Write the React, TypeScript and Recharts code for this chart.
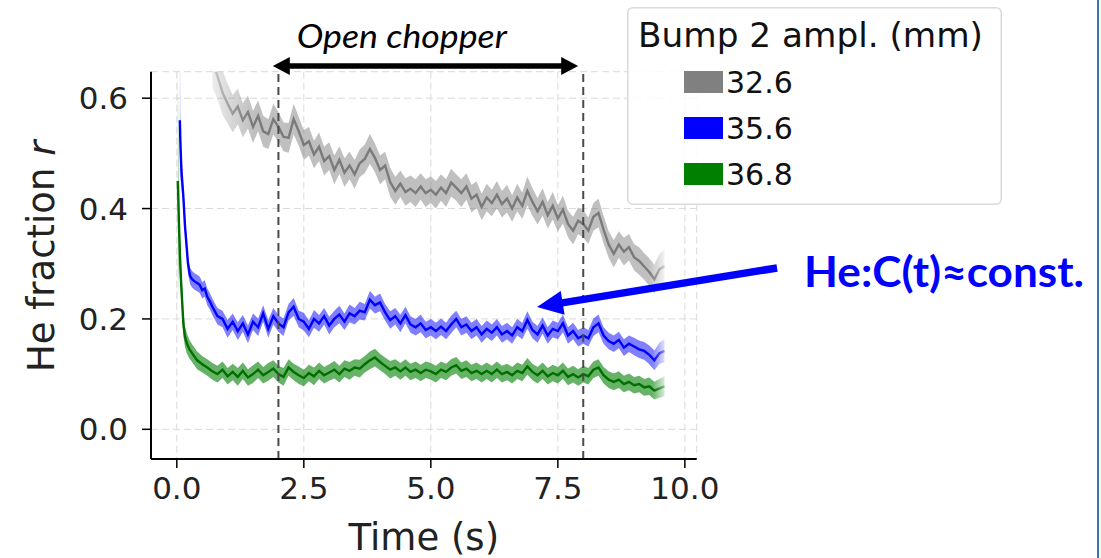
import React from 'react';
import { ComposedChart, Line, Area, XAxis, YAxis, CartesianGrid, ReferenceLine, Legend } from 'recharts';

// ---------- data ----------
const commonTime = [
  1.0, 1.1, 1.2, 1.3, 1.4, 1.5, 1.6, 1.7, 1.8, 1.9,
  2.0, 2.1, 2.2, 2.3, 2.4, 2.5, 2.6, 2.7, 2.8, 2.9,
  3.0, 3.1, 3.2, 3.3, 3.4, 3.5, 3.6, 3.7, 3.8, 3.9,
  4.0, 4.1, 4.2, 4.3, 4.4, 4.5, 4.6, 4.7, 4.8, 4.9,
  5.0, 5.1, 5.2, 5.3, 5.4, 5.5, 5.6, 5.7, 5.8, 5.9,
  6.0, 6.1, 6.2, 6.3, 6.4, 6.5, 6.6, 6.7, 6.8, 6.9,
  7.0, 7.1, 7.2, 7.3, 7.4, 7.5, 7.6, 7.7, 7.8, 7.9,
  8.0, 8.1, 8.2, 8.3, 8.4, 8.5, 8.6, 8.7, 8.8, 8.9,
  9.0, 9.1, 9.2, 9.3, 9.4, 9.5, 9.6,
];

// 32.6 mm (gray)
const grayEarlyTime = [0.7, 0.8, 0.9];
const grayMean = [
  0.665, 0.640, 0.610,
  0.590, 0.572, 0.585, 0.560, 0.575, 0.548, 0.568, 0.540, 0.535, 0.562,
  0.548, 0.530, 0.528, 0.562, 0.540, 0.515, 0.522, 0.498, 0.512, 0.486,
  0.495, 0.470, 0.488, 0.465, 0.478, 0.462, 0.482, 0.490, 0.508, 0.492,
  0.470, 0.478, 0.448, 0.432, 0.445, 0.430, 0.436, 0.428, 0.440, 0.428,
  0.434, 0.425, 0.438, 0.428, 0.447, 0.438, 0.428, 0.440, 0.418, 0.425,
  0.403, 0.420, 0.410, 0.425, 0.408, 0.418, 0.400, 0.420, 0.405, 0.432,
  0.412, 0.395, 0.412, 0.388, 0.405, 0.382, 0.398, 0.372, 0.360, 0.378,
  0.372, 0.360, 0.385, 0.392, 0.362, 0.335, 0.318, 0.335, 0.322, 0.330,
  0.312, 0.305, 0.295, 0.285, 0.272, 0.290, 0.296,
];
const grayErr = [
  0.045, 0.042, 0.040,
  0.036, 0.034, 0.032, 0.031, 0.030, 0.029, 0.028, 0.028, 0.027, 0.028,
  0.027, 0.026, 0.027, 0.028, 0.026, 0.027, 0.026, 0.025, 0.026, 0.026,
  0.025, 0.026, 0.025, 0.026, 0.025, 0.026, 0.025, 0.026, 0.027, 0.026,
  0.026, 0.025, 0.026, 0.025, 0.024, 0.025, 0.024, 0.025, 0.024, 0.025,
  0.024, 0.025, 0.024, 0.025, 0.025, 0.024, 0.025, 0.024, 0.025, 0.024,
  0.024, 0.025, 0.024, 0.025, 0.024, 0.025, 0.024, 0.025, 0.024, 0.026,
  0.025, 0.024, 0.025, 0.024, 0.025, 0.024, 0.025, 0.024, 0.025, 0.024,
  0.025, 0.024, 0.025, 0.026, 0.025, 0.024, 0.025, 0.024, 0.025, 0.024,
  0.024, 0.025, 0.024, 0.025, 0.026, 0.028, 0.030,
];

// 35.6 mm (blue)
const blueEarlyTime = [0.06, 0.07, 0.09, 0.11, 0.13, 0.16, 0.19, 0.22, 0.26, 0.30, 0.35, 0.40, 0.45, 0.50, 0.55, 0.60, 0.65, 0.70, 0.80, 0.90];
const blueMean = [
  0.560, 0.520, 0.470, 0.445, 0.420, 0.370, 0.335, 0.300, 0.278, 0.272,
  0.268, 0.265, 0.262, 0.252, 0.255, 0.240, 0.232, 0.222, 0.205, 0.200,
  0.182, 0.195, 0.178, 0.192, 0.172, 0.195, 0.185, 0.210, 0.182, 0.205,
  0.192, 0.185, 0.212, 0.222, 0.200, 0.195, 0.182, 0.200, 0.192, 0.205,
  0.188, 0.200, 0.208, 0.195, 0.210, 0.205, 0.215, 0.212, 0.235, 0.225,
  0.230, 0.212, 0.198, 0.205, 0.192, 0.207, 0.190, 0.185, 0.192, 0.180,
  0.185, 0.178, 0.186, 0.178, 0.190, 0.200, 0.185, 0.190, 0.178, 0.185,
  0.172, 0.182, 0.175, 0.185, 0.172, 0.178, 0.170, 0.185, 0.178, 0.198,
  0.180, 0.172, 0.188, 0.170, 0.182, 0.178, 0.192, 0.170, 0.178, 0.165,
  0.170, 0.165, 0.185, 0.192, 0.170, 0.160, 0.155, 0.162, 0.148, 0.155,
  0.150, 0.145, 0.142, 0.135, 0.125, 0.138, 0.142,
];
const blueErr = [
  0.150, 0.060, 0.032, 0.024, 0.020, 0.018, 0.017, 0.016, 0.015, 0.015,
  0.015, 0.015, 0.015, 0.015, 0.015, 0.015, 0.015, 0.015, 0.015, 0.015,
  0.016, 0.015, 0.016, 0.015, 0.016, 0.015, 0.016, 0.015, 0.016, 0.015,
  0.015, 0.016, 0.015, 0.016, 0.015, 0.016, 0.015, 0.016, 0.015, 0.015,
  0.016, 0.015, 0.016, 0.015, 0.016, 0.015, 0.016, 0.015, 0.016, 0.015,
  0.016, 0.015, 0.016, 0.015, 0.016, 0.015, 0.015, 0.015, 0.016, 0.015,
  0.015, 0.015, 0.015, 0.015, 0.016, 0.015, 0.015, 0.015, 0.015, 0.015,
  0.015, 0.015, 0.015, 0.015, 0.015, 0.015, 0.015, 0.015, 0.015, 0.016,
  0.015, 0.015, 0.015, 0.015, 0.015, 0.015, 0.016, 0.015, 0.015, 0.015,
  0.015, 0.015, 0.016, 0.016, 0.015, 0.015, 0.015, 0.015, 0.015, 0.015,
  0.016, 0.016, 0.016, 0.017, 0.018, 0.019, 0.021,
];

// 36.8 mm (green)
const greenEarlyTime = [0.02, 0.04, 0.06, 0.08, 0.10, 0.13, 0.16, 0.20, 0.25, 0.30, 0.40, 0.50, 0.60, 0.70, 0.80, 0.90];
const greenMean = [
  0.450, 0.380, 0.320, 0.275, 0.240, 0.190, 0.168, 0.155, 0.145, 0.138,
  0.125, 0.118, 0.112, 0.105, 0.100, 0.108,
  0.096, 0.104, 0.095, 0.106, 0.094, 0.100, 0.108, 0.098, 0.104, 0.110,
  0.100, 0.095, 0.112, 0.104, 0.098, 0.093, 0.102, 0.096, 0.106, 0.098,
  0.103, 0.108, 0.100, 0.110, 0.106, 0.112, 0.110, 0.118, 0.125, 0.130,
  0.122, 0.115, 0.108, 0.112, 0.105, 0.112, 0.104, 0.108, 0.102, 0.108,
  0.105, 0.100, 0.108, 0.104, 0.112, 0.116, 0.106, 0.110, 0.102, 0.106,
  0.100, 0.106, 0.100, 0.108, 0.100, 0.104, 0.098, 0.106, 0.102, 0.114,
  0.104, 0.098, 0.106, 0.096, 0.102, 0.098, 0.106, 0.095, 0.100, 0.094,
  0.100, 0.096, 0.108, 0.112, 0.098, 0.090, 0.086, 0.090, 0.082, 0.086,
  0.080, 0.082, 0.076, 0.078, 0.070, 0.074, 0.078,
];
const greenErr = [
  0.220, 0.080, 0.045, 0.032, 0.025, 0.021, 0.019, 0.018, 0.017, 0.016,
  0.016, 0.015, 0.015, 0.015, 0.015, 0.015,
  0.015, 0.015, 0.016, 0.015, 0.015, 0.016, 0.015, 0.015, 0.016, 0.015,
  0.015, 0.016, 0.015, 0.015, 0.016, 0.015, 0.015, 0.016, 0.015, 0.015,
  0.015, 0.016, 0.015, 0.015, 0.016, 0.015, 0.016, 0.015, 0.016, 0.016,
  0.015, 0.015, 0.016, 0.015, 0.015, 0.015, 0.015, 0.015, 0.015, 0.015,
  0.015, 0.015, 0.015, 0.015, 0.015, 0.015, 0.015, 0.015, 0.015, 0.015,
  0.015, 0.015, 0.015, 0.015, 0.015, 0.015, 0.015, 0.015, 0.015, 0.015,
  0.015, 0.015, 0.015, 0.015, 0.015, 0.015, 0.015, 0.015, 0.015, 0.015,
  0.015, 0.015, 0.015, 0.015, 0.015, 0.015, 0.015, 0.015, 0.015, 0.015,
  0.015, 0.015, 0.015, 0.016, 0.016, 0.017, 0.018,
];

const xTicks = [0, 2.5, 5, 7.5, 10];
const yTicks = [0, 0.2, 0.4, 0.6];
const chopperWindow = [2, 8];

const legendTitle = 'Bump 2 ampl. (mm)';
const legendLabels = ['32.6', '35.6', '36.8'];
const legendColors = ['#808080', '#0000ff', '#008000'];

// annotation anchor points (data units)
const chopperArrow = [{ x: 1.89, y: 0.6585 }, { x: 7.9, y: 0.6585 }];
const constArrow = [{ x: 11.815, y: 0.2924 }, { x: 7.09, y: 0.2217 }];

// ---------- build ----------
const build = (times: number[], mean: number[], err: number[]) =>
  times.map((t, i) => ({ t, mean: mean[i], band: [mean[i] - err[i], mean[i] + err[i]] }));

const grayData = build([...grayEarlyTime, ...commonTime], grayMean, grayErr);
const blueData = build([...blueEarlyTime, ...commonTime], blueMean, blueErr);
const greenData = build([...greenEarlyTime, ...commonTime], greenMean, greenErr);

const FONT = '"DejaVu Sans", sans-serif';

function drawArrow(p: any, o: any) {
  const { x1, y1, x2, y2 } = p;
  const dx = x2 - x1;
  const dy = y2 - y1;
  const len = Math.sqrt(dx * dx + dy * dy);
  const ux = dx / len;
  const uy = dy / len;
  const nx = -uy;
  const ny = ux;
  const head = (tx: number, ty: number, dir: number) => {
    const bx = tx - dir * ux * o.headLen;
    const by = ty - dir * uy * o.headLen;
    return `${tx},${ty} ${bx + nx * o.headHalf},${by + ny * o.headHalf} ${bx - nx * o.headHalf},${by - ny * o.headHalf}`;
  };
  const sx = o.double ? x1 + ux * (o.headLen - 2) : x1;
  const sy = o.double ? y1 + uy * (o.headLen - 2) : y1;
  const ex = x2 - ux * (o.headLen - 2);
  const ey = y2 - uy * (o.headLen - 2);
  return (
    <g>
      <line x1={sx} y1={sy} x2={ex} y2={ey} stroke={o.color} strokeWidth={o.width} />
      <polygon points={head(x2, y2, 1)} fill={o.color} />
      {o.double ? <polygon points={head(x1, y1, -1)} fill={o.color} /> : null}
      <text
        x={x1 + o.tdx}
        y={y1 + o.tdy}
        fill={o.color}
        fontFamily={o.font}
        fontSize={o.fontSize}
        fontStyle={o.fontStyle}
        fontWeight={o.fontWeight}
        textLength={o.textLength}
        lengthAdjust="spacingAndGlyphs"
      >
        {o.text}
      </text>
    </g>
  );
}

function LegendBox() {
  return (
    <svg width={375} height={198} style={{ display: 'block' }}>
      <rect x={0.75} y={0.75} width={373.5} height={196.5} rx={5} ry={5} fill="#ffffff" fillOpacity={0.85} stroke="#dadada" strokeWidth={1.5} />
      <text x={11} y={39.7} fontFamily={FONT} fontSize={33} fill="#111" textLength={345} lengthAdjust="spacingAndGlyphs">
        {legendTitle}
      </text>
      {legendLabels.map((lab, i) => (
        <g key={lab}>
          <rect x={57} y={64 + i * 46} width={39} height={22} fill={legendColors[i]} />
          <text x={99} y={86.3 + i * 46} fontFamily={FONT} fontSize={30} fill="#111">
            {lab}
          </text>
        </g>
      ))}
    </svg>
  );
}

const YLabel = (props: any) => {
  const vb = props.viewBox || { x: 0, y: 0, height: 0 };
  const cx = vb.x + 42;
  const cy = vb.y + vb.height / 2 - 9;
  return (
    <text x={cx} y={cy} transform={`rotate(-90, ${cx}, ${cy})`} textAnchor="middle" dominantBaseline="central" fontFamily={FONT} fontSize={37} fill="#222">
      He fraction <tspan fontStyle="italic">r</tspan>
    </text>
  );
};

const XLabel = (props: any) => {
  const vb = props.viewBox || { x: 0, y: 0, width: 0 };
  return (
    <text x={vb.x + vb.width / 2} y={vb.y + 91} textAnchor="middle" fontFamily={FONT} fontSize={37} fill="#222">
      Time (s)
    </text>
  );
};

export default function App() {
  return (
    <div style={{ position: 'absolute', left: 0, top: 0, width: 1101, height: 558, background: '#fff' }}>
      <ComposedChart width={1101} height={558} margin={{ top: 71.7, right: 404.3, bottom: 0, left: 0 }}>
        <defs>
          <linearGradient id="gGrayBand" x1="0" y1="0" x2="1" y2="0">
            <stop offset="0" stopColor="#808080" stopOpacity={0.15} />
            <stop offset="0.09" stopColor="#808080" stopOpacity={0.5} />
            <stop offset="0.965" stopColor="#808080" stopOpacity={0.5} />
            <stop offset="1" stopColor="#808080" stopOpacity={0.1} />
          </linearGradient>
          <linearGradient id="gGrayLine" x1="0" y1="0" x2="1" y2="0">
            <stop offset="0" stopColor="#7a7a7a" stopOpacity={0.3} />
            <stop offset="0.09" stopColor="#7a7a7a" stopOpacity={1} />
            <stop offset="0.965" stopColor="#7a7a7a" stopOpacity={1} />
            <stop offset="1" stopColor="#7a7a7a" stopOpacity={0.3} />
          </linearGradient>
          <linearGradient id="gBlueBand" x1="0" y1="0" x2="1" y2="0">
            <stop offset="0" stopColor="#0000ff" stopOpacity={0.3} />
            <stop offset="0.01" stopColor="#0000ff" stopOpacity={0.5} />
            <stop offset="0.975" stopColor="#0000ff" stopOpacity={0.5} />
            <stop offset="1" stopColor="#0000ff" stopOpacity={0.12} />
          </linearGradient>
          <linearGradient id="gBlueLine" x1="0" y1="0" x2="1" y2="0">
            <stop offset="0" stopColor="#0000ff" stopOpacity={1} />
            <stop offset="0.975" stopColor="#0000ff" stopOpacity={1} />
            <stop offset="1" stopColor="#0000ff" stopOpacity={0.35} />
          </linearGradient>
          <linearGradient id="gGreenBand" x1="0" y1="0" x2="1" y2="0">
            <stop offset="0" stopColor="#008000" stopOpacity={0.3} />
            <stop offset="0.01" stopColor="#008000" stopOpacity={0.6} />
            <stop offset="0.975" stopColor="#008000" stopOpacity={0.6} />
            <stop offset="1" stopColor="#008000" stopOpacity={0.15} />
          </linearGradient>
          <linearGradient id="gGreenLine" x1="0" y1="0" x2="1" y2="0">
            <stop offset="0" stopColor="#006f00" stopOpacity={1} />
            <stop offset="0.975" stopColor="#006f00" stopOpacity={1} />
            <stop offset="1" stopColor="#006f00" stopOpacity={0.35} />
          </linearGradient>
        </defs>
        <CartesianGrid stroke="#d9d9d9" strokeDasharray="7 4" strokeWidth={1} />
        <XAxis
          dataKey="t"
          type="number"
          domain={[-0.508, 10.233]}
          ticks={xTicks}
          allowDataOverflow
          tickFormatter={(v: number) => v.toFixed(1)}
          height={99}
          tickSize={9}
          tickMargin={9}
          axisLine={{ stroke: '#000', strokeWidth: 2 }}
          tickLine={{ stroke: '#000', strokeWidth: 1.5 }}
          tick={{ fontSize: 31, fill: '#222', fontFamily: FONT }}
          label={<XLabel />}
        />
        <YAxis
          type="number"
          domain={[-0.0538, 0.648]}
          ticks={yTicks}
          allowDataOverflow
          tickFormatter={(v: number) => v.toFixed(1)}
          width={151}
          tickSize={9}
          tickMargin={14}
          axisLine={{ stroke: '#000', strokeWidth: 2 }}
          tickLine={{ stroke: '#000', strokeWidth: 1.5 }}
          tick={{ fontSize: 31, fill: '#222', fontFamily: FONT }}
          label={<YLabel />}
        />
        <Area data={grayData} dataKey="band" type="linear" stroke="none" fill="url(#gGrayBand)" fillOpacity={1} isAnimationActive={false} activeDot={false} />
        <Line data={grayData} dataKey="mean" type="linear" stroke="url(#gGrayLine)" strokeWidth={2.4} dot={false} activeDot={false} isAnimationActive={false} />
        <Area data={blueData} dataKey="band" type="linear" stroke="none" fill="url(#gBlueBand)" fillOpacity={1} isAnimationActive={false} activeDot={false} />
        <Line data={blueData} dataKey="mean" type="linear" stroke="url(#gBlueLine)" strokeWidth={2.4} dot={false} activeDot={false} isAnimationActive={false} />
        <Area data={greenData} dataKey="band" type="linear" stroke="none" fill="url(#gGreenBand)" fillOpacity={1} isAnimationActive={false} activeDot={false} />
        <Line data={greenData} dataKey="mean" type="linear" stroke="url(#gGreenLine)" strokeWidth={2.4} dot={false} activeDot={false} isAnimationActive={false} />
        {chopperWindow.map((x) => (
          <ReferenceLine key={x} x={x} stroke="#4a4a4a" strokeWidth={2} strokeDasharray="8 5" />
        ))}
        <ReferenceLine
          segment={chopperArrow}
          ifOverflow="visible"
          shape={(p: any) =>
            drawArrow(p, {
              color: '#000',
              width: 5.5,
              headLen: 17,
              headHalf: 9,
              double: true,
              text: 'Open chopper',
              tdx: 24,
              tdy: -18,
              font: 'Lato, "Open Sans", sans-serif',
              fontSize: 32,
              fontStyle: 'italic',
              fontWeight: 400,
              textLength: 210,
            })
          }
        />
        <ReferenceLine
          segment={constArrow}
          ifOverflow="visible"
          shape={(p: any) =>
            drawArrow(p, {
              color: '#0000ff',
              width: 7.5,
              headLen: 26,
              headHalf: 12,
              double: false,
              text: 'He:C(t)≈const.',
              tdx: 27,
              tdy: 19,
              font: 'Lato, "Open Sans", sans-serif',
              fontSize: 42,
              fontStyle: 'normal',
              fontWeight: 700,
              textLength: 280,
            })
          }
        />
        <Legend
          layout="vertical"
          align="center"
          verticalAlign="middle"
          wrapperStyle={{ left: 627, top: 7, width: 375, height: 198 }}
          content={() => <LegendBox />}
        />
      </ComposedChart>
      <div style={{ position: 'absolute', left: 1097, top: 0, width: 2, height: 558, background: '#3a74ad' }} />
    </div>
  );
}
